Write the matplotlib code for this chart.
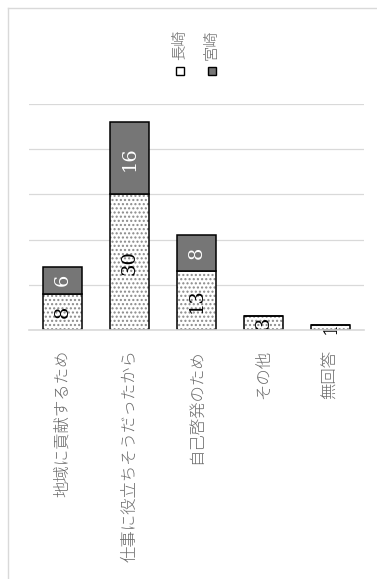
import numpy as np
import matplotlib.pyplot as plt
from matplotlib.patches import Rectangle
from matplotlib.lines import Line2D

plt.rcParams['font.family'] = ['Noto Sans CJK JP', 'DejaVu Sans']

categories = ['地域に貢献するため', '仕事に役立ちそうだったから', '自己啓発のため', 'その他', '無回答']
nagasaki = [8, 30, 13, 3, 1]
miyazaki = [6, 16, 8, 0, 0]
series_names = ['長崎', '宮崎']

W, H = 377, 579
fig = plt.figure(figsize=(W/100, H/100), dpi=100)
ax = fig.add_axes([29/W, 1-330/H, 335/W, 226/H])

x = np.arange(len(categories))
bw = 0.57

# dotted fill first, outline on top
ax.bar(x, nagasaki, bw, color='white', edgecolor='#8a8a8a', linewidth=0, hatch='....', zorder=2)
b1 = ax.bar(x, nagasaki, bw, color='none', edgecolor='black', linewidth=1.1, zorder=3)
b2 = ax.bar(x, miyazaki, bw, bottom=nagasaki, color='#767676', edgecolor='black', linewidth=1.1, zorder=3)

for i in range(len(x)):
    if nagasaki[i] > 0:
        ax.text(x[i], nagasaki[i]/2, str(nagasaki[i]), rotation=90, ha='center', va='center',
                family='DejaVu Serif', fontsize=14, color='black', zorder=4)
    if miyazaki[i] > 0:
        ax.text(x[i], nagasaki[i] + miyazaki[i]/2, str(miyazaki[i]), rotation=90, ha='center', va='center',
                family='DejaVu Serif', fontsize=14, color='white', zorder=4)

ax.set_xlim(-0.5, len(categories)-0.5)
ax.set_ylim(0, 50)
ax.set_yticks([0, 10, 20, 30, 40, 50])
ax.yaxis.grid(True, color='#d9d9d9', linewidth=0.9)
ax.set_axisbelow(True)
ax.tick_params(axis='y', length=0, labelleft=False)
ax.set_xticks(x)
ax.set_xticklabels(categories, rotation=90, va='top', ha='center', fontsize=11.8,
                   color='#6a6a6a', fontweight='light')
ax.tick_params(axis='x', length=0, pad=14)
for s in ['top', 'right', 'left']:
    ax.spines[s].set_visible(False)
ax.spines['bottom'].set_color('#d9d9d9')
ax.spines['bottom'].set_linewidth(1.2)
ax.spines['bottom'].set_zorder(5)

# legend drawn by hand (rotated text)
lx = [180, 212]
lcol = ['white', '#767676']
for i in range(2):
    fig.add_artist(Rectangle(((lx[i]-4)/W, 1-75/H), 8/W, 8/H, transform=fig.transFigure,
                             facecolor=lcol[i], edgecolor='black', linewidth=1))
    fig.text(lx[i]/W, 1-60/H, series_names[i], rotation=90, ha='center', va='bottom',
             fontsize=11, color='#6a6a6a', fontweight='light')

# chart frame
fig.add_artist(Line2D([7.5/W, 7.5/W], [0, 1-8/H], transform=fig.transFigure, color='#d9d9d9', linewidth=1))
fig.add_artist(Line2D([7.5/W, 1], [1-8/H, 1-8/H], transform=fig.transFigure, color='#d9d9d9', linewidth=1))

fig.savefig('out.png', dpi=100, facecolor='white')
